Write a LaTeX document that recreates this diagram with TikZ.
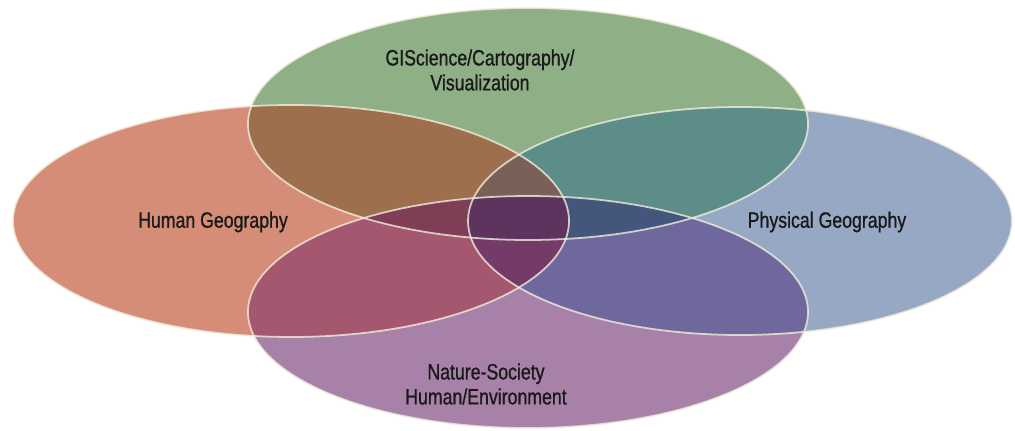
\documentclass[tikz,border=0pt]{standalone}
\usepackage{fontspec}
\setmainfont[FakeStretch=0.8,FakeBold=0.9]{Liberation Sans}
\definecolor{humC}{RGB}{214,141,119}
\definecolor{gisC}{RGB}{143,175,134}
\definecolor{phyC}{RGB}{150,168,196}
\definecolor{natC}{RGB}{168,129,168}
\definecolor{hgC}{RGB}{157,111,77}
\definecolor{gpC}{RGB}{92,141,136}
\definecolor{hnC}{RGB}{164,87,110}
\definecolor{pnC}{RGB}{111,104,156}
\definecolor{hgpC}{RGB}{121,97,87}
\definecolor{hgnC}{RGB}{126,62,86}
\definecolor{gpnC}{RGB}{68,86,124}
\definecolor{hpnC}{RGB}{116,58,104}
\definecolor{allC}{RGB}{94,52,94}
\definecolor{rimC}{RGB}{242,238,222}
\def\hum{(291,221) ellipse (278 and 116)}
\def\gis{(528,124) ellipse (280 and 116)}
\def\phy{(740,221) ellipse (272 and 114)}
\def\nat{(528,312) ellipse (280 and 116)}
\begin{document}
\begin{tikzpicture}[x=.02cm,y=-.02cm,lab/.style={text=black!90,align=center,font=\fontsize{12.6}{14.2}\selectfont}]
\useasboundingbox (0,0) rectangle (1015,430);
% single fields
\fill[gisC] \gis; \fill[phyC] \phy; \fill[humC] \hum; \fill[natC] \nat;
% two-way overlaps
\begin{scope}\clip \hum; \fill[hgC] \gis; \fill[hnC] \nat;\end{scope}
\begin{scope}\clip \phy; \fill[gpC] \gis; \fill[pnC] \nat;\end{scope}
% three-way overlaps
\begin{scope}\clip \hum; \clip \phy; \fill[hgpC] \gis; \fill[hpnC] \nat;\end{scope}
\begin{scope}\clip \gis; \clip \nat; \fill[hgnC] \hum; \fill[gpnC] \phy;\end{scope}
% all four
\begin{scope}\clip \hum; \clip \phy; \clip \gis; \fill[allC] \nat;\end{scope}
% light rims
\foreach \e in {\gis,\phy,\hum,\nat}{\draw[rimC,opacity=.8,line width=1pt] \e;}
\node[lab] (gisl) at (480,70) {GIScience/Cartography/\\Visualization};
\node[lab] (huml) at (213,222) {Human Geography};
\node[lab] (phyl) at (827,222) {Physical Geography};
\node[lab] (natl) at (486,384) {Nature-Society\\Human/Environment};
\end{tikzpicture}
\end{document}
